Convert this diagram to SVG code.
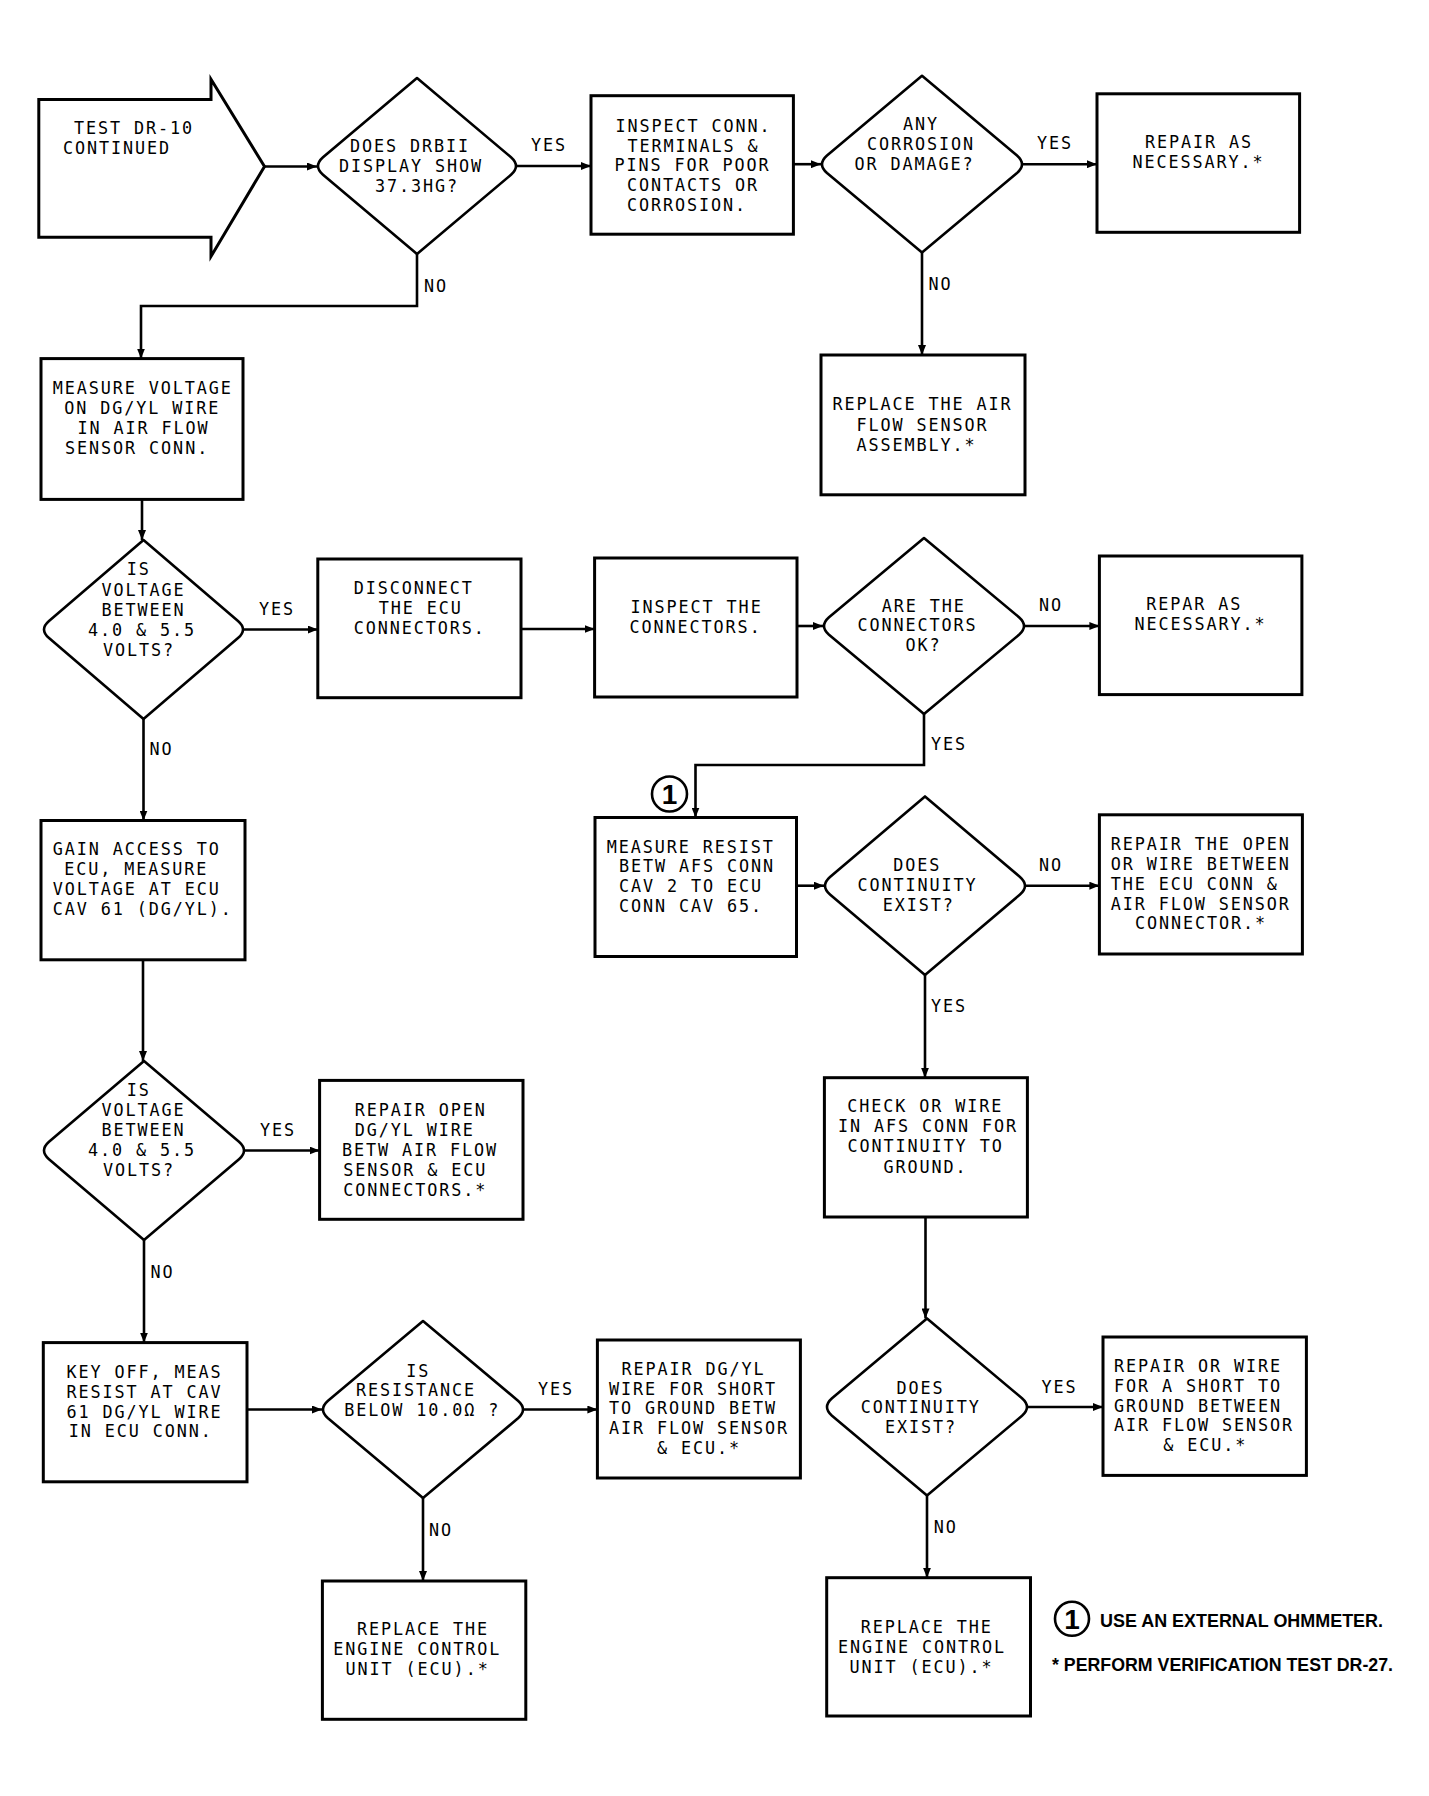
<svg xmlns="http://www.w3.org/2000/svg" width="1429" height="1796" viewBox="0 0 1429 1796">
<style>
.box{fill:none;stroke:#000;stroke-width:3}
.dia{fill:none;stroke:#000;stroke-width:2.6;stroke-linejoin:round}
.conn{fill:none;stroke:#000;stroke-width:2.6;marker-end:url(#ah)}
.t{font-family:"DejaVu Sans Mono","Liberation Mono",monospace;font-size:16.8px;letter-spacing:1.9px;fill:#000}
.fn{font-family:"Liberation Sans",Arial,sans-serif;font-weight:bold;font-size:18px;fill:#000}
.num{font-family:"Liberation Sans",Arial,sans-serif;font-weight:bold;font-size:28px;fill:#000}
.circ{fill:none;stroke:#000;stroke-width:2.6}
</style>
<defs>
<marker id="ah" markerUnits="userSpaceOnUse" markerWidth="10" markerHeight="8" refX="10" refY="4" orient="auto">
<path d="M0,0 L10,4 L0,8 Z" fill="#000"/>
</marker>
</defs>
<rect width="1429" height="1796" fill="#fff"/>

<g id="start">
<polygon class="box" points="38.8,99.5 211,99.5 211,79.2 264.5,166.5 211,256.4 211,237.3 38.8,237.3"/>
<text class="t"><tspan x="74" y="134">TEST DR-10</tspan><tspan x="63" y="154">CONTINUED</tspan></text>
</g>

<g id="d1">
<path class="dia" d="M417,78 L511,157.2 Q521,166 511,174.8 L417,254 L323,174.8 Q313,166 323,157.2 Z"/>
<text class="t"><tspan x="350" y="152">DOES DRBII</tspan><tspan x="339" y="172">DISPLAY SHOW</tspan><tspan x="375" y="192">37.3HG?</tspan></text>
</g>

<g id="b_inspect_conn">
<rect class="box" x="591" y="95.7" width="202.4" height="138.5"/>
<text class="t"><tspan x="615.5" y="131.8">INSPECT CONN.</tspan><tspan x="627.5" y="151.6">TERMINALS &amp;</tspan><tspan x="614.5" y="171.4">PINS FOR POOR</tspan><tspan x="627" y="191.2">CONTACTS OR</tspan><tspan x="627" y="211">CORROSION.</tspan></text>
</g>

<g id="d2">
<path class="dia" d="M922,75.8 L1017,155.4 Q1027,164.2 1017,173 L922,252.6 L827,173 Q817,164.2 827,155.4 Z"/>
<text class="t"><tspan x="903" y="130.3">ANY</tspan><tspan x="867" y="150.2">CORROSION</tspan><tspan x="854.5" y="170">OR DAMAGE?</tspan></text>
</g>

<g id="b_repair_as">
<rect class="box" x="1097" y="93.8" width="202.6" height="138.5"/>
<text class="t"><tspan x="1145" y="148.3">REPAIR AS</tspan><tspan x="1132.5" y="168.2">NECESSARY.*</tspan></text>
</g>

<g id="b_replace_afs">
<rect class="box" x="821" y="355" width="204" height="139.8"/>
<text class="t"><tspan x="832.5" y="410.4">REPLACE THE AIR</tspan><tspan x="856.5" y="430.7">FLOW SENSOR</tspan><tspan x="856.5" y="450.6">ASSEMBLY.*</tspan></text>
</g>

<g id="b_measure_v">
<rect class="box" x="41" y="358.6" width="202" height="140.8"/>
<text class="t"><tspan x="52.8" y="394.3">MEASURE VOLTAGE</tspan><tspan x="64.2" y="414.2">ON DG/YL WIRE</tspan><tspan x="77.4" y="434.1">IN AIR FLOW</tspan><tspan x="65.1" y="454.2">SENSOR CONN.</tspan></text>
</g>

<g id="d3">
<path class="dia" d="M143.5,540 L238,620.9 Q248,629.5 238,638.1 L143.5,719 L49,638.1 Q39,629.5 49,620.9 Z"/>
<text class="t"><tspan x="126.7" y="575.4">IS</tspan><tspan x="101.6" y="595.6">VOLTAGE</tspan><tspan x="101.6" y="615.5">BETWEEN</tspan><tspan x="87.9" y="635.8">4.0 &amp; 5.5</tspan><tspan x="103" y="655.7">VOLTS?</tspan></text>
</g>

<g id="b_disconnect">
<rect class="box" x="317.8" y="559" width="203.2" height="138.7"/>
<text class="t"><tspan x="353.8" y="594.2">DISCONNECT</tspan><tspan x="378.8" y="614">THE ECU</tspan><tspan x="353.8" y="633.8">CONNECTORS.</tspan></text>
</g>

<g id="b_inspect_the">
<rect class="box" x="594.6" y="558" width="202.4" height="139"/>
<text class="t"><tspan x="630.6" y="612.9">INSPECT THE</tspan><tspan x="629.6" y="632.8">CONNECTORS.</tspan></text>
</g>

<g id="d4">
<path class="dia" d="M924,538 L1019,617.2 Q1029,626 1019,634.8 L924,714 L829,634.8 Q819,626 829,617.2 Z"/>
<text class="t"><tspan x="881.8" y="611.6">ARE THE</tspan><tspan x="857.6" y="631.4">CONNECTORS</tspan><tspan x="905.5" y="651.2">OK?</tspan></text>
</g>

<g id="b_repar">
<rect class="box" x="1099.4" y="556" width="202.5" height="138.6"/>
<text class="t"><tspan x="1146.3" y="610.4">REPAR AS</tspan><tspan x="1134.4" y="630.2">NECESSARY.*</tspan></text>
</g>

<g id="b_gain">
<rect class="box" x="41" y="820.5" width="204" height="139.3"/>
<text class="t"><tspan x="52.8" y="854.7">GAIN ACCESS TO</tspan><tspan x="64.2" y="875">ECU, MEASURE</tspan><tspan x="52.8" y="894.9">VOLTAGE AT ECU</tspan><tspan x="52.8" y="914.8">CAV 61 (DG/YL).</tspan></text>
</g>

<g id="b_measure_r">
<rect class="box" x="595" y="817.5" width="201.5" height="139"/>
<text class="t"><tspan x="606.8" y="852.6">MEASURE RESIST</tspan><tspan x="619" y="872.4">BETW AFS CONN</tspan><tspan x="619" y="892.2">CAV 2 TO ECU</tspan><tspan x="619" y="912">CONN CAV 65.</tspan></text>
</g>

<g id="d5">
<path class="dia" d="M925,796.4 L1020,876.9 Q1030,885.7 1020,894.5 L925,975 L830,894.5 Q820,885.7 830,876.9 Z"/>
<text class="t"><tspan x="893.2" y="871.2">DOES</tspan><tspan x="857.6" y="891">CONTINUITY</tspan><tspan x="882.7" y="911">EXIST?</tspan></text>
</g>

<g id="b_repair_open_or">
<rect class="box" x="1099.4" y="814.8" width="203" height="139.2"/>
<text class="t"><tspan x="1110.7" y="849.8">REPAIR THE OPEN</tspan><tspan x="1110.7" y="869.7">OR WIRE BETWEEN</tspan><tspan x="1110.7" y="889.6">THE ECU CONN &amp;</tspan><tspan x="1110.7" y="909.5">AIR FLOW SENSOR</tspan><tspan x="1134.9" y="929.4">CONNECTOR.*</tspan></text>
</g>

<g id="b_check">
<rect class="box" x="824.4" y="1077.7" width="203" height="139.3"/>
<text class="t"><tspan x="847.2" y="1112">CHECK OR WIRE</tspan><tspan x="838" y="1132.2">IN AFS CONN FOR</tspan><tspan x="847.6" y="1152.4">CONTINUITY TO</tspan><tspan x="883.6" y="1172.6">GROUND.</tspan></text>
</g>

<g id="d6">
<path class="dia" d="M144,1061 L239,1141.7 Q249,1150.5 239,1159.3 L144,1240 L49,1159.3 Q39,1150.5 49,1141.7 Z"/>
<text class="t"><tspan x="126.7" y="1096">IS</tspan><tspan x="101.6" y="1116">VOLTAGE</tspan><tspan x="101.6" y="1136">BETWEEN</tspan><tspan x="87.9" y="1156">4.0 &amp; 5.5</tspan><tspan x="103" y="1176">VOLTS?</tspan></text>
</g>

<g id="b_repair_open_dg">
<rect class="box" x="319.6" y="1080.4" width="203.4" height="138.9"/>
<text class="t"><tspan x="354.7" y="1115.5">REPAIR OPEN</tspan><tspan x="354.7" y="1135.5">DG/YL WIRE</tspan><tspan x="342" y="1155.5">BETW AIR FLOW</tspan><tspan x="343.3" y="1175.5">SENSOR &amp; ECU</tspan><tspan x="343.3" y="1195.5">CONNECTORS.*</tspan></text>
</g>

<g id="b_key">
<rect class="box" x="43.3" y="1342.6" width="203.7" height="139.2"/>
<text class="t"><tspan x="66.5" y="1378">KEY OFF, MEAS</tspan><tspan x="66.5" y="1397.8">RESIST AT CAV</tspan><tspan x="66.5" y="1417.6">61 DG/YL WIRE</tspan><tspan x="68.8" y="1437.4">IN ECU CONN.</tspan></text>
</g>

<g id="d7">
<path class="dia" d="M423,1321 L518,1400.7 Q528,1409.5 518,1418.3 L423,1498 L328,1418.3 Q318,1409.5 328,1400.7 Z"/>
<text class="t"><tspan x="406.2" y="1376.6">IS</tspan><tspan x="356" y="1396.4">RESISTANCE</tspan><tspan x="344.2" y="1416.2">BELOW 10.0Ω ?</tspan></text>
</g>

<g id="b_repair_dgyl_short">
<rect class="box" x="597.4" y="1340" width="203" height="138"/>
<text class="t"><tspan x="621.4" y="1374.8">REPAIR DG/YL</tspan><tspan x="609" y="1394.6">WIRE FOR SHORT</tspan><tspan x="609" y="1414.4">TO GROUND BETW</tspan><tspan x="609" y="1434.2">AIR FLOW SENSOR</tspan><tspan x="657" y="1454">&amp; ECU.*</tspan></text>
</g>

<g id="d8">
<path class="dia" d="M927,1318.4 L1022,1398.2 Q1032,1407 1022,1415.8 L927,1495.5 L832,1415.8 Q822,1407 832,1398.2 Z"/>
<text class="t"><tspan x="896.4" y="1393.6">DOES</tspan><tspan x="860.8" y="1413.4">CONTINUITY</tspan><tspan x="885" y="1433.2">EXIST?</tspan></text>
</g>

<g id="b_repair_or_short">
<rect class="box" x="1103" y="1337" width="203.4" height="138.4"/>
<text class="t"><tspan x="1113.9" y="1372">REPAIR OR WIRE</tspan><tspan x="1113.9" y="1391.8">FOR A SHORT TO</tspan><tspan x="1113.9" y="1411.6">GROUND BETWEEN</tspan><tspan x="1113.9" y="1431.4">AIR FLOW SENSOR</tspan><tspan x="1163.2" y="1451.2">&amp; ECU.*</tspan></text>
</g>

<g id="b_replace_ecu_l">
<rect class="box" x="322.4" y="1581" width="203.4" height="138.3"/>
<text class="t"><tspan x="357" y="1635.2">REPLACE THE</tspan><tspan x="333.2" y="1655.1">ENGINE CONTROL</tspan><tspan x="345.6" y="1675">UNIT (ECU).*</tspan></text>
</g>

<g id="b_replace_ecu_r">
<rect class="box" x="826.7" y="1577.7" width="203.8" height="138.3"/>
<text class="t"><tspan x="860.8" y="1632.6">REPLACE THE</tspan><tspan x="838" y="1652.6">ENGINE CONTROL</tspan><tspan x="849.4" y="1672.6">UNIT (ECU).*</tspan></text>
</g>

<g id="connectors">
<path class="conn" d="M264.5,166.5 H317"/>
<path class="conn" d="M517,166 H591"/>
<path class="conn" d="M793.4,164.2 H821"/>
<path class="conn" d="M1023,164.2 H1097"/>
<path class="conn" d="M922,252.6 V355"/>
<path class="conn" d="M417,254 V306 H141 V358.6"/>
<path class="conn" d="M142,499.4 V540"/>
<path class="conn" d="M244,629.5 H317.8"/>
<path class="conn" d="M521,629 H594.6"/>
<path class="conn" d="M797,626 H823"/>
<path class="conn" d="M1025,626 H1099.4"/>
<path class="conn" d="M924,714 V765 H695.5 V817.5"/>
<path class="conn" d="M143.5,719 V820.5"/>
<path class="conn" d="M796.5,885.7 H824"/>
<path class="conn" d="M1026,885.7 H1099.4"/>
<path class="conn" d="M925,975 V1077.7"/>
<path class="conn" d="M143,959.8 V1061"/>
<path class="conn" d="M245,1150.5 H319.6"/>
<path class="conn" d="M144,1240 V1342.6"/>
<path class="conn" d="M247,1409.5 H322"/>
<path class="conn" d="M524,1409.5 H597.4"/>
<path class="conn" d="M423,1498 V1581"/>
<path class="conn" d="M925.5,1217 V1318.4"/>
<path class="conn" d="M1028,1407 H1103"/>
<path class="conn" d="M927,1495.5 V1577.7"/>
<text class="t" x="531" y="151.3">YES</text>
<text class="t" x="424" y="291.8">NO</text>
<text class="t" x="1037" y="149.4">YES</text>
<text class="t" x="928.5" y="289.9">NO</text>
<text class="t" x="259" y="614.8">YES</text>
<text class="t" x="1039" y="611">NO</text>
<text class="t" x="931" y="750.3">YES</text>
<text class="t" x="149.5" y="755.2">NO</text>
<text class="t" x="1039" y="871.2">NO</text>
<text class="t" x="931" y="1011.6">YES</text>
<text class="t" x="260" y="1136">YES</text>
<text class="t" x="150.4" y="1277.6">NO</text>
<text class="t" x="538" y="1395.4">YES</text>
<text class="t" x="429" y="1535.6">NO</text>
<text class="t" x="1041.4" y="1393">YES</text>
<text class="t" x="933.8" y="1533.3">NO</text>
</g>

<g id="note1">
<circle class="circ" cx="669.5" cy="794" r="17.5"/>
<text class="num" x="669.5" y="804" text-anchor="middle">1</text>
</g>

<g id="legend">
<circle class="circ" cx="1072" cy="1618.8" r="17"/>
<text class="num" x="1072" y="1628.8" text-anchor="middle">1</text>
<text class="fn" x="1100" y="1627" textLength="283" lengthAdjust="spacingAndGlyphs">USE AN EXTERNAL OHMMETER.</text>
<text class="fn" x="1052" y="1671" textLength="341" lengthAdjust="spacingAndGlyphs">* PERFORM VERIFICATION TEST DR-27.</text>
</g>
</svg>
